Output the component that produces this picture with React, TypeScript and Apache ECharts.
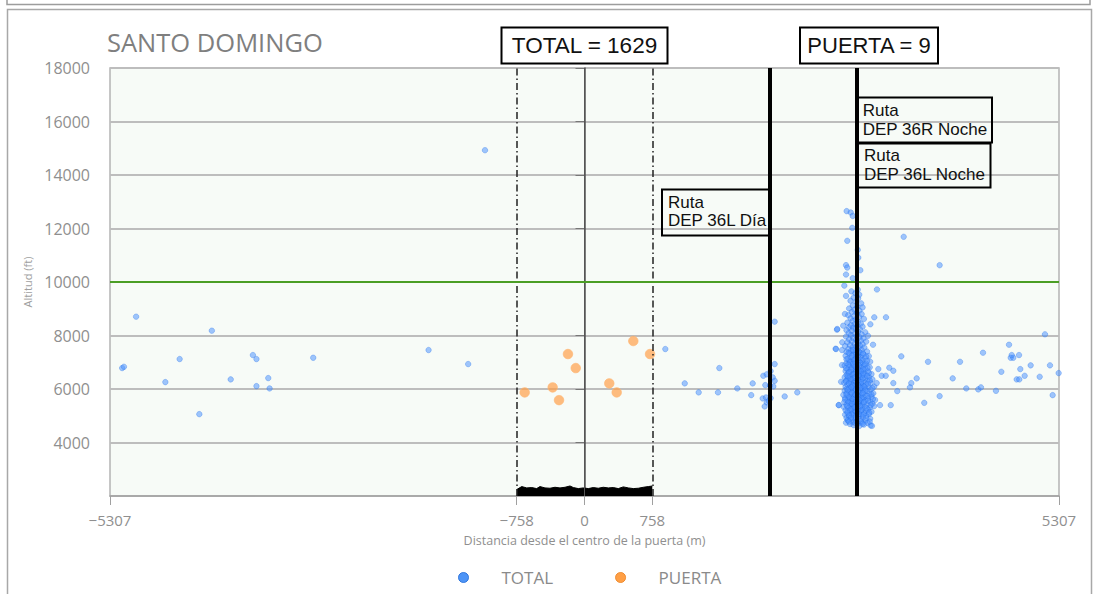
import React, { useEffect, useRef } from "react";
import * as echarts from "echarts";

// ---------- data ----------
const xTickValues = [-5307, -758, 0, 758, 5307];
const yTickValues = [4000, 6000, 8000, 10000, 12000, 14000, 16000, 18000];
const gateEdges = [-758, 758];
const gateCenter = 0;
const routeLines = [2075, 3048];
const altitudeLimit = 10000;

const totalLabel = "TOTAL = 1629";
const gateLabel = "PUERTA = 9";

// scattered TOTAL points, west of the gate
const totalWest: number[][] = [
  [-5171, 6783], [-5151, 6831], [-5015, 8704], [-4688, 6258], [-4528, 7120],
  [-4308, 5060], [-4168, 8180], [-3957, 6359], [-3709, 7269], [-3669, 7120],
  [-3669, 6108], [-3537, 6408], [-3522, 6022], [-3034, 7168], [-1744, 7457],
  [-1301, 6932], [-1113, 14926],
];

// TOTAL points between the gate and the routes
const totalMiddle: number[][] = [
  [904, 7494], [1121, 6210], [1277, 5873], [1508, 6783], [1493, 5873], [1709, 6022],
  [1865, 5771], [1881, 6210], [2127, 8517], [2127, 6932], [2000, 6494], [2038, 6547],
  [2082, 6670], [2105, 6434], [2127, 6307], [2022, 6146], [2075, 6120], [2112, 6097],
  [1993, 5648], [2030, 5685], [2082, 5659], [2038, 5498], [2015, 5348], [2060, 5558],
  [2239, 5723], [2380, 5873],
];

// dense TOTAL cluster around the 36L/36R night route
const totalCluster: number[][] = [
  [2932, 12650], [2977, 12600], [3000, 12470], [2995, 12025], [2939, 11540], [3056, 11200],
  [3062, 10910], [3085, 10440], [2925, 10630], [2939, 10540], [2925, 10280], [3000, 10140],
  [2906, 9865], [2925, 9480], [3056, 9715], [3073, 9527], [2913, 8805], [2894, 8367],
  [2824, 8217], [2883, 7745], [2809, 7505], [2880, 7457], [2880, 6895], [2870, 6270],
  [2845, 5400], [2843, 5397], [2827, 8243], [2813, 7494],
  [2985, 9650], [3030, 9580], [3010, 9420], [3060, 9390], [2975, 9300], [3040, 9260],
  [3095, 9200], [3000, 9120], [3050, 9070], [2960, 9010], [3020, 8960], [3075, 8930], [3110, 9050],
  [2990, 8880], [3045, 8840], [3100, 8800], [2950, 8760], [3015, 8720], [3070, 8690],
  [2975, 8640], [3035, 8600], [3125, 8620], [3000, 8540], [3060, 8510], [2940, 8480],
  [3090, 8450], [3020, 8420], [2980, 8380], [3050, 8360], [3110, 8330], [2960, 8300], [3005, 8290],
  [3035, 8250], [3080, 8230], [2930, 8200], [2990, 8170], [3060, 8140], [3140, 8120],
  [2955, 8090], [3020, 8060], [3100, 8040], [2980, 8010], [3045, 7980], [3170, 7990],
  [2925, 7960], [3075, 7940], [3005, 7910], [3120, 7890], [2960, 7860], [3040, 7840],
  [3090, 7810], [2990, 7780], [3150, 7770], [2940, 7740], [3060, 7720], [3020, 7690],
  [3110, 7670], [2970, 7640], [3080, 7620], [2915, 7600], [3040, 7590], [3000, 7560],
  [3130, 7550], [3065, 7520],
  [2950, 7490], [3010, 7470], [3100, 7460], [2980, 7430], [3050, 7410], [3160, 7400],
  [2930, 7380], [3030, 7360], [3090, 7340], [2965, 7320], [3120, 7300], [3000, 7280],
  [3060, 7260], [2920, 7240], [3180, 7230], [3035, 7210], [3085, 7190], [2985, 7170],
  [3140, 7150], [2945, 7130], [3050, 7110], [3010, 7090], [3110, 7070], [2960, 7050],
  [3070, 7030], [3195, 7020], [2995, 7010],
  [3030, 6990], [2930, 6970], [3100, 6960], [3150, 6940], [2975, 6930], [3060, 6910],
  [3010, 6890], [2910, 6880], [3125, 6870], [3045, 6850], [2960, 6830], [3090, 6820],
  [3190, 6810], [2990, 6790], [3035, 6770], [3140, 6760], [2940, 6740], [3075, 6720],
  [3015, 6700], [3105, 6690], [2920, 6670], [3170, 6660], [2980, 6650], [3055, 6630],
  [3120, 6610], [2950, 6600], [3025, 6580], [3085, 6570], [3210, 6560], [2995, 6540],
  [3150, 6530], [2930, 6520], [3060, 6510],
  [3110, 6490], [2970, 6480], [3035, 6460], [3180, 6450], [2910, 6440], [3080, 6430],
  [3005, 6410], [3140, 6400], [2950, 6390], [3055, 6370], [3220, 6360], [2990, 6350],
  [3100, 6340], [2930, 6320], [3165, 6310], [3030, 6300], [3075, 6280], [2965, 6270],
  [3130, 6250], [3010, 6240], [2905, 6230], [3200, 6220], [3050, 6210], [2980, 6190],
  [3095, 6180], [3150, 6170], [2940, 6160], [3025, 6140], [3115, 6120], [2995, 6110],
  [3070, 6100], [3240, 6090], [2920, 6080], [3175, 6070], [3045, 6060], [2960, 6040],
  [3105, 6030], [3010, 6020], [3140, 6010], [2935, 6000],
  [3060, 5990], [3200, 5980], [2985, 5970], [3090, 5950], [2910, 5940], [3030, 5930],
  [3160, 5920], [2960, 5900], [3120, 5890], [3005, 5880], [3075, 5860], [2930, 5850],
  [3230, 5840], [3040, 5830], [3185, 5820], [2975, 5810], [3100, 5790], [2895, 5780],
  [3055, 5770], [3145, 5760], [3015, 5750], [2945, 5730], [3085, 5720], [3210, 5710],
  [2990, 5700], [3125, 5690], [3035, 5670], [2915, 5660], [3170, 5650], [3065, 5640],
  [2965, 5630], [3105, 5610], [3010, 5600], [3250, 5590], [2940, 5580], [3140, 5570],
  [3050, 5560], [2985, 5540], [3090, 5530], [3195, 5520], [2905, 5510],
  [3025, 5495], [3120, 5480], [2960, 5470], [3070, 5460], [3220, 5450], [2995, 5430],
  [3160, 5420], [2930, 5410], [3045, 5400], [3100, 5380], [2975, 5370], [3240, 5360],
  [3015, 5350], [3135, 5340], [2900, 5330], [3080, 5320], [3190, 5300], [2950, 5290],
  [3040, 5280], [3110, 5260], [2990, 5250], [3060, 5230], [3170, 5220], [2920, 5210],
  [3020, 5200], [3145, 5190], [2970, 5170], [3090, 5160], [3210, 5150], [3005, 5130],
  [3055, 5110], [2940, 5100], [3125, 5090], [2985, 5070], [3180, 5060], [3035, 5050],
  [2915, 5040], [3095, 5030], [3000, 5010], [3150, 5000],
  [2960, 4980], [3065, 4960], [3115, 4940], [2930, 4920], [3020, 4900], [3195, 4890],
  [2985, 4870], [3080, 4860], [2945, 4840], [3140, 4820], [3040, 4800], [3000, 4770],
  [3100, 4750], [2925, 4740], [3165, 4730], [3055, 4700], [2970, 4690], [3125, 4670],
  [3010, 4650], [3200, 4640], [3075, 4620], [2945, 4820],
  [3000, 7450], [3070, 7395], [2955, 7350], [3115, 7330], [3040, 7295], [2990, 7245],
  [3150, 7215], [3065, 7160], [2930, 7115], [3090, 7095], [3020, 7060], [3160, 7045],
  [2970, 7000], [3085, 6975], [3005, 6945], [3135, 6915], [2950, 6905], [3070, 6875],
  [3030, 6830], [3165, 6800], [2925, 6780], [3055, 6750], [3120, 6735], [2985, 6715],
  [3090, 6660], [3035, 6640], [2960, 6620], [3180, 6600], [3010, 6555], [3115, 6540],
  [3070, 6500], [2945, 6470], [3160, 6475], [3020, 6425], [3110, 6395], [2975, 6360],
  [3060, 6330], [3190, 6320], [2925, 6290], [3095, 6260], [3040, 6235], [3170, 6200],
  [2960, 6205], [3060, 6150], [3000, 6130], [3130, 6090], [2985, 6060], [3085, 6045],
  [3220, 6030], [3035, 5985], [2945, 5960], [3140, 5945], [3060, 5910], [2990, 5855],
  [3110, 5840], [3210, 5800], [2930, 5795], [3030, 5780], [3165, 5735], [3060, 5700],
  [2960, 5685], [3100, 5660], [3225, 5620], [3000, 5625], [2915, 5600], [3075, 5585],
  [3170, 5560], [3030, 5520], [2950, 5505], [3125, 5510], [3060, 5440], [2990, 5455],
  [3200, 5400], [2940, 5360], [3085, 5355], [3020, 5310], [3155, 5280], [2975, 5230],
  [3095, 5200], [3040, 5160], [2940, 5150], [3185, 5120], [3070, 5070], [2960, 5020],
  [3120, 5040], [3035, 4950], [3150, 4910], [2980, 4920], [3090, 4800], [2960, 4780],
  [3190, 4780], [3030, 4720], [3110, 4700],
  [3241, 8680], [3372, 8680], [3197, 8420], [3227, 7655], [3271, 9720], [3286, 6745],
  [3324, 6494], [3369, 6494], [3409, 6795], [3454, 6682], [3268, 6220], [3454, 6220],
  [3498, 5921], [3425, 5397], [3305, 5397], [3215, 4620],
];

// scattered TOTAL points, east of the routes
const totalEast: number[][] = [
  [3543, 7220], [3570, 11690], [3972, 10628], [3655, 6220], [3640, 6060], [3715, 6397],
  [3800, 5483], [3842, 7018], [3972, 5734], [4118, 6397], [4200, 7018], [4270, 6022],
  [4404, 5985], [4434, 6060], [4457, 7356], [4602, 5932], [4662, 6644], [4748, 7655],
  [4767, 7168], [4796, 7168], [4778, 7269], [4860, 7269], [4874, 6745], [4834, 6359],
  [4863, 6359], [4923, 6494], [4990, 6884], [5091, 6457], [5150, 8044], [5206, 6884],
  [5236, 5771], [5303, 6595],
];

// PUERTA points (inside the gate)
const gatePoints: number[][] = [
  [-669, 5873], [-356, 6060], [-285, 5584], [-185, 7307], [-98, 6783],
  [277, 6210], [360, 5873], [546, 7794], [733, 7307],
];

// ground track band along the gate (top edge of the black strip)
const groundTrack: number[][] = [
  [-758, 2240], [-702, 2352], [-646, 2302], [-590, 2315], [-535, 2277], [-498, 2352],
  [-442, 2302], [-386, 2290], [-330, 2326], [-274, 2302], [-218, 2326], [-162, 2375],
  [-125, 2315], [-69, 2277], [-13, 2302], [43, 2277], [98, 2315], [154, 2290],
  [210, 2326], [266, 2302], [322, 2315], [378, 2277], [434, 2340], [490, 2302],
  [546, 2277], [602, 2290], [658, 2326], [714, 2352], [758, 2375],
];

const routeNotes = [
  { lines: ["Ruta", "DEP 36L Día"] },
  { lines: ["Ruta", "DEP 36R Noche"] },
  { lines: ["Ruta", "DEP 36L Noche"] },
];

// ---------- styles ----------
const UI_FONT = "'Open Sans', 'Noto Sans', sans-serif";
const BOX_FONT = "'Liberation Sans', Arial, sans-serif";
const GREY_TEXT = "#8f8f8f";

function minusFmt(v: number) {
  return v < 0 ? "\u2212" + Math.abs(v) : String(v);
}

function boxText(x: number, y: number, text: string, size: number, align: string) {
  return {
    type: "text",
    x,
    y,
    silent: true,
    z: 100,
    style: {
      text,
      fontFamily: BOX_FONT,
      fontSize: size,
      fill: "#111",
      align,
      verticalAlign: "middle",
    },
  };
}

function boxRect(x: number, y: number, w: number, h: number) {
  return {
    type: "rect",
    silent: true,
    z: 99,
    shape: { x, y, width: w, height: h },
    style: { fill: "none", stroke: "#000", lineWidth: 2 },
  };
}

export default function App() {
  const ref = useRef<HTMLDivElement>(null);

  useEffect(() => {
    if (!ref.current) return;
    const chart = echarts.init(ref.current, null, { renderer: "svg" });

    const allTotal = [...totalWest, ...totalMiddle, ...totalCluster, ...totalEast];

    const option: any = {
      animation: false,
      backgroundColor: "#ffffff",
      title: {
        text: "SANTO DOMINGO",
        left: 107,
        top: 29,
        padding: 0,
        textStyle: {
          fontFamily: UI_FONT,
          fontSize: 25.5,
          fontWeight: "normal",
          color: "#7f7f7f",
        },
      },
      legend: {
        left: 458,
        top: 569,
        padding: 0,
        itemWidth: 66,
        itemHeight: 10,
        itemGap: 62,
        textStyle: { fontFamily: UI_FONT, fontSize: 17, color: "#8a8a8a" },
        data: [
          { name: "TOTAL", icon: "circle", itemStyle: { opacity: 1, color: "#4d94f7", borderColor: "#2f76de", borderWidth: 1 } },
          { name: "PUERTA", icon: "circle", itemStyle: { opacity: 1, color: "#ff9f45", borderColor: "#f08a2c", borderWidth: 1 } },
        ],
      },
      grid: {
        left: 110,
        right: 37,
        top: 68,
        bottom: 98,
        show: true,
        backgroundColor: "#f7fbf7",
        borderColor: "#b4b4b4",
        borderWidth: 1.5,
      },
      xAxis: {
        type: "value",
        min: -5307,
        max: 5307,
        name: "Distancia desde el centro de la puerta (m)",
        nameLocation: "middle",
        nameGap: 38,
        nameTextStyle: { fontFamily: UI_FONT, fontSize: 12.5, color: GREY_TEXT },
        axisLine: { show: true, lineStyle: { color: "#a0a0a0", width: 1.5 } },
        axisTick: { show: true, customValues: xTickValues, length: 9, lineStyle: { color: "#a0a0a0" } },
        axisLabel: {
          customValues: xTickValues,
          formatter: minusFmt,
          margin: 16,
          fontFamily: UI_FONT,
          fontSize: 15,
          color: GREY_TEXT,
        },
        splitLine: { show: false },
      },
      yAxis: {
        type: "value",
        min: 2000,
        max: 18000,
        interval: 2000,
        name: "Altitud (ft)",
        nameLocation: "middle",
        nameGap: 71,
        nameTextStyle: { fontFamily: UI_FONT, fontSize: 11, color: "#a0a0a0" },
        axisLine: { show: true, lineStyle: { color: "#555", width: 1.5 } },
        axisTick: { show: true, customValues: yTickValues, length: 9, lineStyle: { color: "#777" } },
        axisLabel: {
          customValues: yTickValues,
          formatter: (v: number) => String(v),
          margin: 20,
          fontFamily: UI_FONT,
          fontSize: 16,
          color: GREY_TEXT,
        },
        splitLine: { show: true, lineStyle: { color: "#bdbdbd", width: 2 } },
      },
      series: [
        {
          name: "TOTAL",
          type: "scatter",
          data: allTotal,
          symbolSize: 5.5,
          z: 2,
          itemStyle: { color: "#4a92ff", opacity: 0.52, borderColor: "#1f6fe8", borderWidth: 0.6 },
        },
        {
          name: "PUERTA",
          type: "scatter",
          data: gatePoints,
          symbolSize: 9.5,
          z: 3,
          itemStyle: { color: "#ffa04a", opacity: 0.7, borderColor: "#ffb774", borderWidth: 1 },
        },
        {
          name: "ground",
          type: "line",
          data: groundTrack,
          symbol: "none",
          z: 4,
          lineStyle: { color: "#000", width: 1 },
          areaStyle: { color: "#000", opacity: 1, origin: "start" },
          markLine: {
            silent: true,
            symbol: ["none", "none"],
            label: { show: false },
            data: [
              { xAxis: gateEdges[0], lineStyle: { color: "#222", width: 1.5, type: [7, 3, 1.5, 3] } },
              { xAxis: gateEdges[1], lineStyle: { color: "#222", width: 1.5, type: [7, 3, 1.5, 3] } },
              { xAxis: gateCenter, lineStyle: { color: "#555", width: 1, type: "solid" } },
              { yAxis: altitudeLimit, lineStyle: { color: "#4b9e25", width: 2, type: "solid" } },
              { xAxis: routeLines[0], lineStyle: { color: "#000", width: 4, type: "solid" } },
              { xAxis: routeLines[1], lineStyle: { color: "#000", width: 4, type: "solid" } },
            ],
          },
        },
      ],
      graphic: [
        // page frames
        { type: "rect", silent: true, z: 1, shape: { x: 7, y: -20, width: 1083, height: 24.5 }, style: { fill: "none", stroke: "#9c9c9c", lineWidth: 1.5 } },
        { type: "rect", silent: true, z: 1, shape: { x: 7.5, y: 9.5, width: 1084, height: 600 }, style: { fill: "none", stroke: "#a8a8a8", lineWidth: 1.5 } },
        // count boxes
        boxRect(501.5, 27.5, 166, 36),
        boxText(584.5, 45, totalLabel, 22.5, "center"),
        boxRect(800, 27.5, 138, 36),
        boxText(869, 45, gateLabel, 22, "center"),
        // route boxes
        boxRect(662, 189.5, 107.5, 46),
        boxText(668, 202.5, routeNotes[0].lines[0], 17, "left"),
        boxText(668, 220.5, routeNotes[0].lines[1], 17, "left"),
        boxRect(858, 97.5, 134, 45),
        boxText(862.7, 110, routeNotes[1].lines[0], 17, "left"),
        boxText(862.7, 129.3, routeNotes[1].lines[1], 17, "left"),
        boxRect(858, 143.5, 132.5, 44),
        boxText(864, 155.2, routeNotes[2].lines[0], 17, "left"),
        boxText(864, 174.3, routeNotes[2].lines[1], 17, "left"),
      ],
    };

    chart.setOption(option);
    return () => chart.dispose();
  }, []);

  return (
    <div
      ref={ref}
      style={{ position: "absolute", left: 0, top: 0, width: 1096, height: 594, background: "#fff" }}
    />
  );
}
